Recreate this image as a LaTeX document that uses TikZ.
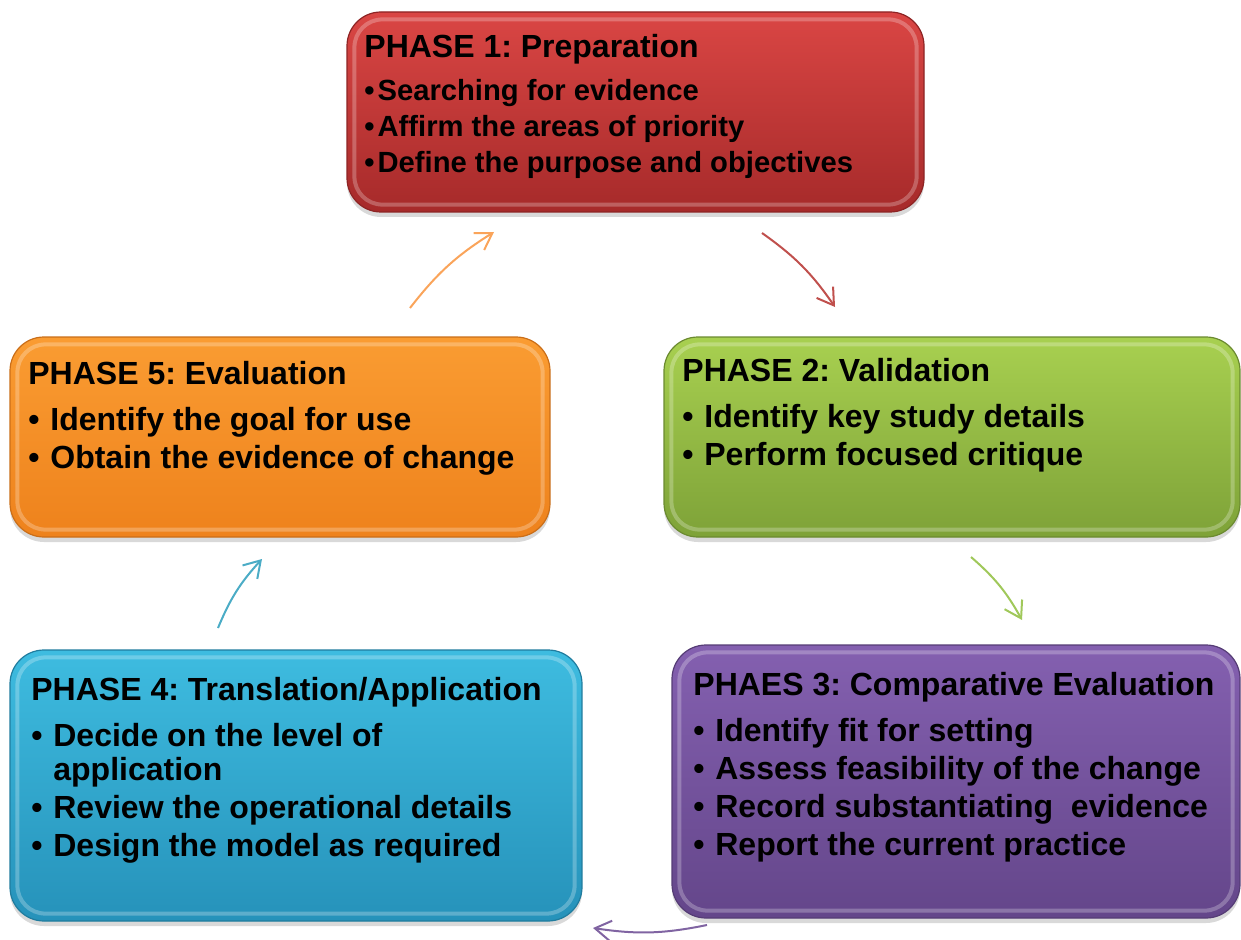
\documentclass[tikz,border=0pt]{standalone}
\usepackage{fontspec}
\setmainfont{Liberation Sans}
\usetikzlibrary{arrows.meta, shadows}
\frenchspacing

% box colours
\definecolor{p1top}{RGB}{218,70,68}
\definecolor{p1bot}{RGB}{166,42,42}
\definecolor{p2top}{RGB}{168,208,80}
\definecolor{p2bot}{RGB}{126,162,56}
\definecolor{p3top}{RGB}{132,96,176}
\definecolor{p3bot}{RGB}{100,70,138}
\definecolor{p4top}{RGB}{62,188,224}
\definecolor{p4bot}{RGB}{38,146,186}
\definecolor{p5top}{RGB}{250,156,50}
\definecolor{p5bot}{RGB}{238,130,28}
% arrow colours
\definecolor{arrorange}{RGB}{250,164,90}
\definecolor{arrred}{RGB}{192,80,77}
\definecolor{arrgreen}{RGB}{160,200,90}
\definecolor{arrpurple}{RGB}{128,100,162}
\definecolor{arrcyan}{RGB}{75,172,198}

\newcommand{\pitem}{\makebox[11pt][l]{•}}
\newcommand{\smallitem}{\fontsize{14.6}{18}\selectfont•\hspace{1.5pt}}

\begin{document}
\begin{tikzpicture}[x=0.5pt, y=0.5pt,
  phasebox/.style={rounded corners=17pt, draw=#1bot!85!black, line width=0.6pt,
    top color=#1top, bottom color=#1bot,
    drop shadow={shadow xshift=0pt, shadow yshift=-2.5pt, opacity=0.3}},
  rim/.style={rounded corners=14pt, draw=white, draw opacity=0.25, line width=2pt},
  phasetext/.style={anchor=base west, align=left, inner sep=0pt,
    font=\bfseries\fontsize{16}{19}\selectfont},
  cycarrow/.style={line width=1pt, -{Straight Barb[length=8pt, width=10pt]}}]

  \useasboundingbox (0,0) rectangle (1241,939);

  % Boxes
  \node[phasebox=p1, minimum width=288.5pt, minimum height=100pt] (p1) at (635.5,827) {};
  \node[phasebox=p2, minimum width=288pt, minimum height=100pt] (p2) at (952,502) {};
  \node[phasebox=p3, minimum width=284pt, minimum height=136.5pt] (p3) at (956,157.5) {};
  \node[phasebox=p4, minimum width=286pt, minimum height=135.5pt] (p4) at (296,153.5) {};
  \node[phasebox=p5, minimum width=270pt, minimum height=100pt] (p5) at (280,502) {};

  % Inner rims
  \foreach \b in {p1,p2,p3,p4,p5}
    \draw[rim] ([shift={(4pt,4pt)}]\b.south west) rectangle ([shift={(-4pt,-4pt)}]\b.north east);

  % Texts (base = last line)
  \node[phasetext, font=\bfseries\fontsize{16}{18}\selectfont] (t1) at (364,766)
    {\textbf{PHASE 1: Preparation}\\[3.5pt]
     \smallitem Searching for evidence\\
     \smallitem Affirm the areas of priority\\
     \smallitem Define the purpose and objectives};
  \node[phasetext] (t2) at (682,474)
    {\textbf{PHASE 2: Validation}\\[4pt]
     \pitem Identify key study details\\
     \pitem Perform focused critique};
  \node[phasetext] (t3) at (693,84)
    {\textbf{PHAES 3: Comparative Evaluation}\\[4pt]
     \pitem Identify fit for setting\\
     \pitem Assess feasibility of the change\\
     \pitem Record substantiating\ \ evidence\\
     \pitem Report the current practice};
  \node[phasetext] (t4) at (31,83)
    {\textbf{PHASE 4: Translation/Application}\\[4pt]
     \pitem Decide on the level of\\[-2pt]
     \hspace*{11pt}application\\
     \pitem Review the operational details\\
     \pitem Design the model as required};
  \node[phasetext] (t5) at (28,471)
    {\textbf{PHASE 5: Evaluation}\\[4pt]
     \pitem Identify the goal for use\\
     \pitem Obtain the evidence of change};

  % Arrow ends
  \coordinate (a5s) at (410,631);  \coordinate (a5e) at (494,707);
  \coordinate (a1s) at (762,706);  \coordinate (a1e) at (835,632);
  \coordinate (a2s) at (971,382);  \coordinate (a2e) at (1022,319);
  \coordinate (a3s) at (707,14);   \coordinate (a3e) at (593,11);
  \coordinate (a4s) at (218,311);  \coordinate (a4e) at (262,380);

  % Cycle arrows
  \draw[cycarrow, arrorange] (a5s) to[bend left=10] (a5e);
  \draw[cycarrow, arrred] (a1s) to[bend left=10] (a1e);
  \draw[cycarrow, arrgreen] (a2s) to[bend left=10] (a2e);
  \draw[cycarrow, arrpurple] (a3s) to[bend left=10] (a3e);
  \draw[cycarrow, arrcyan] (a4s) to[bend left=10] (a4e);
\end{tikzpicture}
\end{document}
